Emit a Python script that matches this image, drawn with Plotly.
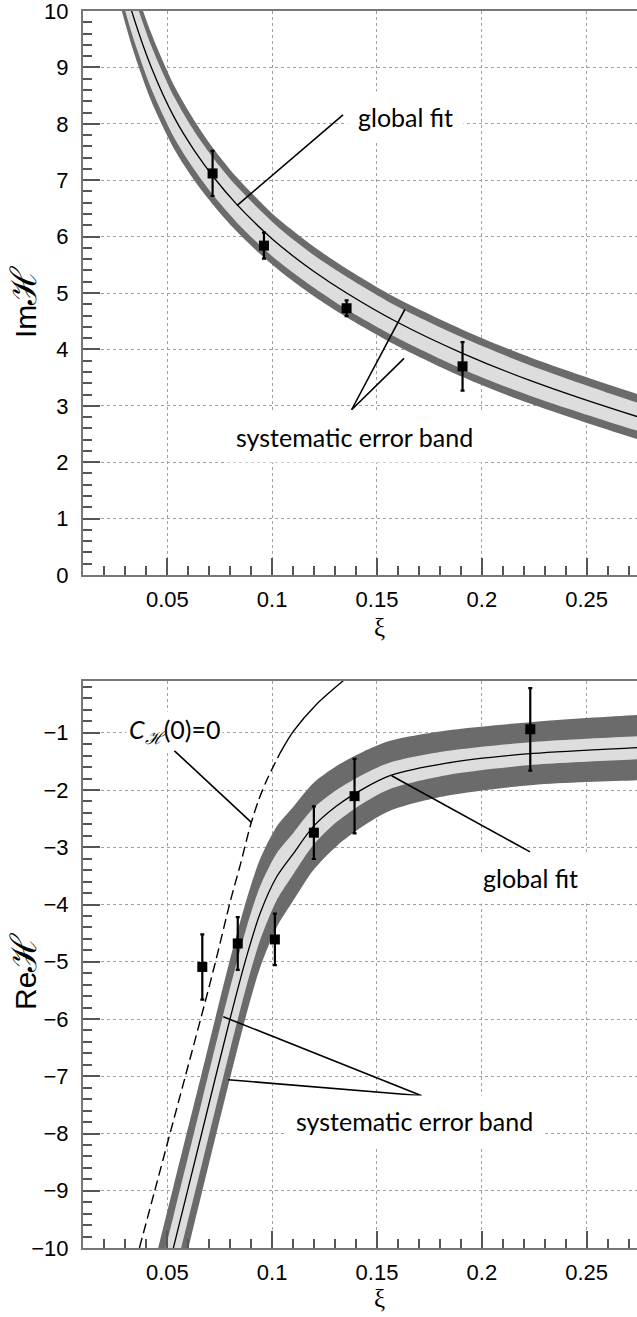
import plotly.graph_objects as go

# ---------------- data ----------------
# top panel: Im H
xi_im_fit = [0.0250, 0.0330, 0.0424, 0.0535, 0.0630, 0.0726, 0.0829, 0.0964, 0.1037,
             0.1196, 0.1355, 0.1593, 0.1908, 0.2229, 0.2740, 0.3000]
im_fit = [11.08, 10.0, 9.0, 8.1, 7.52, 7.03, 6.58, 6.08, 5.84, 5.39, 5.0, 4.49, 3.93, 3.45, 2.81, 2.53]
im_sys_outer = [0.62, 0.61, 0.60, 0.56, 0.53, 0.50, 0.48, 0.46, 0.45, 0.44, 0.43, 0.42, 0.42, 0.41, 0.40, 0.40]
im_sys_inner = [0.40, 0.39, 0.38, 0.36, 0.34, 0.33, 0.32, 0.31, 0.30, 0.29, 0.29, 0.28, 0.28, 0.27, 0.25, 0.25]

xi_im_pts = [0.0716, 0.0961, 0.1355, 0.1908]
im_pts = [7.12, 5.84, 4.73, 3.70]
im_err = [0.40, 0.23, 0.14, 0.43]

# bottom panel: Re H
xi_re_fit = [0.0400, 0.0529, 0.0664, 0.0799, 0.0878, 0.0942, 0.1021, 0.1101, 0.1196,
             0.1307, 0.1434, 0.1562, 0.1832, 0.2245, 0.2740, 0.3000]
re_fit = [-11.9, -10.0, -8.0, -6.0, -4.91, -4.16, -3.52, -3.11, -2.64, -2.28, -1.98, -1.75,
          -1.53, -1.36, -1.26, -1.22]
re_sys_outer = [1.07, 1.07, 1.05, 1.04, 1.0, 0.95, 0.88, 0.82, 0.76, 0.70, 0.65, 0.61, 0.57, 0.55, 0.57, 0.57]
re_sys_inner = [0.55, 0.55, 0.55, 0.54, 0.51, 0.47, 0.41, 0.36, 0.32, 0.28, 0.25, 0.23, 0.21, 0.20, 0.20, 0.20]

xi_c0 = [0.0367, 0.0440, 0.0513, 0.0586, 0.0659, 0.0730, 0.0800, 0.0850, 0.0894, 0.0935,
         0.0974, 0.1037, 0.1100, 0.1212, 0.1339, 0.1370]
re_c0 = [-10.0, -9.0, -8.0, -7.0, -6.0, -5.0, -3.95, -3.28, -2.65, -2.18, -1.83, -1.36,
         -0.98, -0.50, -0.09, 0.0]
c0_dash_end = 12  # dashed part up to this index, solid above

xi_re_pts = [0.0667, 0.0836, 0.1013, 0.1199, 0.1393, 0.2231]
re_pts = [-5.09, -4.68, -4.61, -2.745, -2.107, -0.94]
re_err = [0.57, 0.46, 0.45, 0.46, 0.65, 0.72]

xi_ticks = [0.05, 0.10, 0.15, 0.20, 0.25]
xi_ticktext = ["0.05", "0.1", "0.15", "0.2", "0.25"]

# ---------------- styles ----------------
DARK = "rgb(107,107,107)"
LIGHT = "rgb(221,221,221)"
TICKFONT = dict(family="Liberation Sans, Arial, sans-serif", size=22, color="black")
LABFONT = dict(family="Lato, Open Sans, sans-serif", size=25, color="black")
SPLINE = dict(shape="spline", smoothing=0.8)

W, H = 637, 1317
ML, MR, MT, MB = 83, 0, 11, 69
PH = H - MT - MB


def py2paper(py):
    return (H - MB - py) / PH


def px2paper(px):
    return (px - ML) / (W - ML - MR)


fig = go.Figure()


def add_band(xs, yc, wo, wi, xa, ya):
    up_o = [c + w for c, w in zip(yc, wo)]
    lo_o = [c - w for c, w in zip(yc, wo)]
    up_i = [c + w for c, w in zip(yc, wi)]
    lo_i = [c - w for c, w in zip(yc, wi)]
    fig.add_trace(go.Scatter(x=xs + xs[::-1], y=up_o + lo_o[::-1], fill="toself",
                             fillcolor=DARK, line=dict(width=0, **SPLINE), mode="lines",
                             xaxis=xa, yaxis=ya, hoverinfo="skip", showlegend=False))
    fig.add_trace(go.Scatter(x=xs + xs[::-1], y=up_i + lo_i[::-1], fill="toself",
                             fillcolor=LIGHT, line=dict(width=0, **SPLINE), mode="lines",
                             xaxis=xa, yaxis=ya, hoverinfo="skip", showlegend=False))
    fig.add_trace(go.Scatter(x=xs, y=yc, mode="lines",
                             line=dict(color="black", width=1.3, **SPLINE),
                             xaxis=xa, yaxis=ya, showlegend=False))


def add_points(xs, ys, es, xa, ya):
    fig.add_trace(go.Scatter(x=xs, y=ys, mode="markers",
                             marker=dict(symbol="square", size=10, color="black"),
                             error_y=dict(type="data", array=es, visible=True,
                                          color="black", thickness=2.2, width=2),
                             xaxis=xa, yaxis=ya, showlegend=False))


add_band(xi_im_fit, im_fit, im_sys_outer, im_sys_inner, "x", "y")
add_points(xi_im_pts, im_pts, im_err, "x", "y")

add_band(xi_re_fit, re_fit, re_sys_outer, re_sys_inner, "x2", "y2")
fig.add_trace(go.Scatter(x=xi_c0[:c0_dash_end], y=re_c0[:c0_dash_end], mode="lines",
                         line=dict(color="black", width=1.4, dash="10px,5px", **SPLINE),
                         xaxis="x2", yaxis="y2", showlegend=False))
fig.add_trace(go.Scatter(x=xi_c0[c0_dash_end - 1:], y=re_c0[c0_dash_end - 1:], mode="lines",
                         line=dict(color="black", width=1.4, **SPLINE),
                         xaxis="x2", yaxis="y2", showlegend=False))
add_points(xi_re_pts, re_pts, re_err, "x2", "y2")

axis_common = dict(showline=True, linecolor="#777", linewidth=2,
                   ticks="inside", ticklen=17, tickwidth=1.5, tickcolor="#555",
                   showgrid=True, gridcolor="#a0a0a0", griddash="dot", gridwidth=1,
                   zeroline=False, tickfont=TICKFONT, ticklabeloverflow="allow")

xaxis_cfg = dict(axis_common, range=[0.0098, 0.274], tickmode="array",
                 tickvals=xi_ticks, ticktext=xi_ticktext, mirror=True,
                 ticklabelstandoff=4,
                 minor=dict(ticks="inside", ticklen=9, tickwidth=1.5, tickcolor="#555",
                            tick0=0, dtick=0.01, showgrid=False))
yminor = dict(ticks="inside", ticklen=9, tickwidth=1.5, tickcolor="#555",
              tick0=0, dtick=0.2, showgrid=False)

fig.update_layout(
    width=W, height=H,
    margin=dict(l=ML, r=MR, t=MT, b=MB, pad=0),
    paper_bgcolor="white", plot_bgcolor="white",
    xaxis=dict(xaxis_cfg, anchor="y", domain=[0, 1]),
    yaxis=dict(axis_common, range=[0, 10], dtick=1, tick0=0, anchor="x",
               domain=[py2paper(575), 1], minor=yminor, ticklabelstandoff=8),
    xaxis2=dict(xaxis_cfg, anchor="y2", domain=[0, 1]),
    yaxis2=dict(axis_common, range=[-10, -0.09], dtick=1, tick0=0, anchor="x2",
                domain=[0, py2paper(680.7)], minor=yminor, ticklabelstandoff=8),
)

# leader lines (data coordinates)
top_lines = [((0.0832, 6.55), (0.1338, 8.16)),
             ((0.1379, 2.93), (0.1633, 4.71)),
             ((0.1379, 2.93), (0.1629, 3.84))]
bot_lines = [((0.0533, -1.31), (0.0902, -2.57)),
             ((0.1570, -1.75), (0.2230, -3.08)),
             ((0.1713, -7.34), (0.0767, -5.96)),
             ((0.1713, -7.34), (0.0791, -7.06))]
for (a, b) in top_lines:
    fig.add_shape(type="line", xref="x", yref="y", x0=a[0], y0=a[1], x1=b[0], y1=b[1],
                  line=dict(color="black", width=1.6))
for (a, b) in bot_lines:
    fig.add_shape(type="line", xref="x2", yref="y2", x0=a[0], y0=a[1], x1=b[0], y1=b[1],
                  line=dict(color="black", width=1.6))

labels = [
    ("global fit", "x", "y", 0.1638, 8.12, 10),
    ("systematic error band", "x", "y", 0.1395, 2.45, 10),
    ("<i>C</i><sub><i>ℋ</i></sub>(0)=0", "x2", "y2", 0.0532, -0.96, 2),
    ("global fit", "x2", "y2", 0.2230, -3.54, 10),
    ("systematic error band", "x2", "y2", 0.1681, -7.78, 10),
]
for text, xr, yr, x, y, pad in labels:
    fig.add_annotation(text=text, xref=xr, yref=yr, x=x, y=y, showarrow=False,
                       xanchor="center", yanchor="middle",
                       font=LABFONT, bgcolor="white", borderpad=pad)

# axis titles
TITLEFONT = dict(family="Liberation Sans, Arial, sans-serif", size=30, color="black")
HSPAN = '<span style="font-size:36px">ℋ</span>'
fig.add_annotation(text="Im" + HSPAN, xref="paper", yref="paper", x=px2paper(23),
                   y=py2paper(302), xanchor="center", yanchor="middle", textangle=-90,
                   showarrow=False, font=TITLEFONT)
fig.add_annotation(text="Re" + HSPAN, xref="paper", yref="paper", x=px2paper(23),
                   y=py2paper(972), xanchor="center", yanchor="middle", textangle=-90,
                   showarrow=False, font=TITLEFONT)
for py in (627, 1298):
    fig.add_annotation(text="ξ", xref="paper", yref="paper", x=px2paper(379), y=py2paper(py),
                       xanchor="center", yanchor="middle", showarrow=False,
                       font=dict(family="Liberation Serif, DejaVu Serif, serif", size=25,
                                 color="black"))

fig.write_html("out.html")
